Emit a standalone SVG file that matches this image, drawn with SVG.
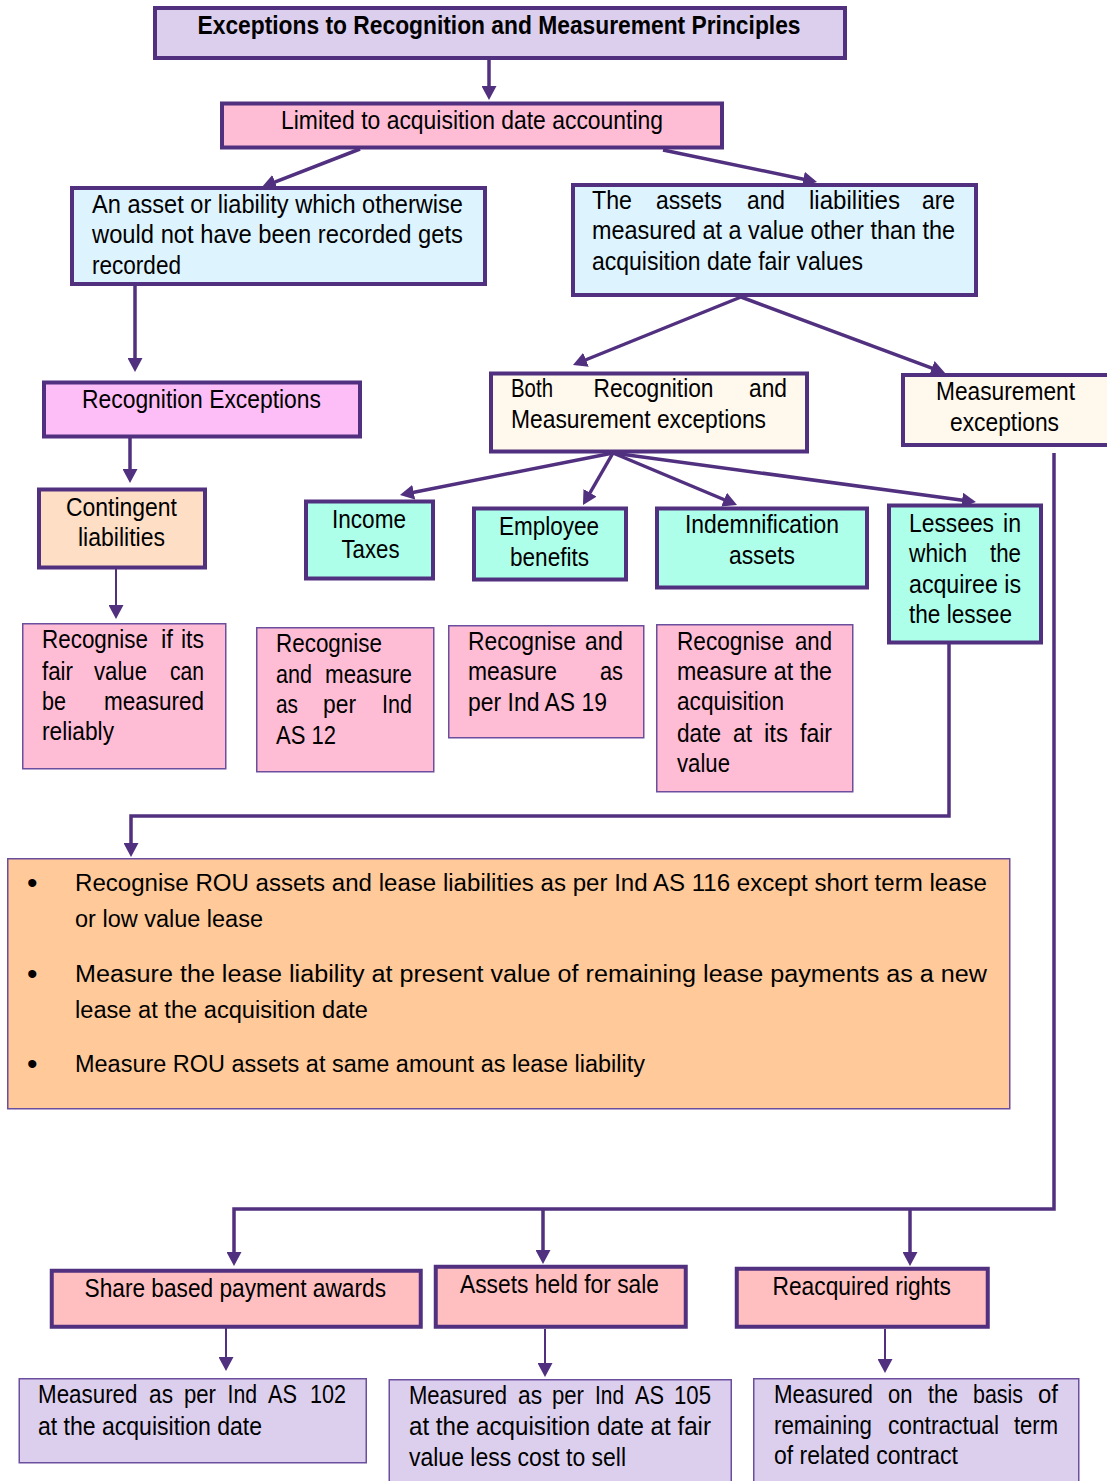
<svg xmlns="http://www.w3.org/2000/svg" width="1107" height="1481" viewBox="0 0 1107 1481">
<style>
text { font-family: "Liberation Sans", Arial, sans-serif; font-size: 25px; fill: #000; }
.b { font-weight: bold; }
.o { font-size: 23px; }
.bul { font-size: 30px; }
.k { stroke: #51307F; stroke-width: 4; }
.n { stroke: #6B4E9E; stroke-width: 1.5; }
.lav { fill: #DCCFEE; }
.pink { fill: #FFBDD5; }
.blue { fill: #DDF4FF; }
.mag { fill: #FDBEF7; }
.cream { fill: #FFF8EC; }
.peach { fill: #FFDEC6; }
.aqua { fill: #ADFFEA; }
.orange { fill: #FFC999; }
.salmon { fill: #FFBFC1; }
.c { fill: none; stroke: #51307F; stroke-width: 3.5; marker-end: url(#ah); }
.cn { fill: none; stroke: #51307F; stroke-width: 2; marker-end: url(#ah); }
</style>
<defs>
<marker id="ah" markerUnits="userSpaceOnUse" markerWidth="15" markerHeight="15" refX="10" refY="7.5" orient="auto">
<path d="M0,0 L14,7.5 L0,15 z" fill="#51307F"/>
</marker>
</defs>

<g id="connectors">
<path class="c" d="M489,60 V96"/>
<path class="c" d="M360,149 L265.7,185.6"/>
<path class="c" d="M663,150 L813.1,181.2"/>
<path class="c" d="M135,286 V368"/>
<path class="c" d="M741,297 L576.7,363.5"/>
<path class="c" d="M741,297 L941.3,371.6"/>
<path class="c" d="M130,438 V479"/>
<path class="cn" d="M116,569 V615"/>
<path class="c" d="M613,453 L403.9,494.2"/>
<path class="c" d="M613,453 L585,501.5"/>
<path class="c" d="M613,453 L733.3,503.5"/>
<path class="c" d="M613,453 L972,501.5"/>
<path class="c" d="M949,644 V816 H131 V853"/>
<path class="c" d="M1054,453 V1209 H234 V1262"/>
<path class="c" d="M543,1209 V1260"/>
<path class="c" d="M910,1209 V1262"/>
<path class="cn" d="M226,1328 V1367"/>
<path class="cn" d="M545,1329 V1373"/>
<path class="cn" d="M885,1329 V1369"/>
</g>

<g id="title">
<rect class="k lav" x="155" y="8" width="690" height="50"/>
<text class="b" x="197.5" y="34" textLength="603" lengthAdjust="spacingAndGlyphs">Exceptions to Recognition and Measurement Principles</text>
</g>

<g id="limited">
<rect class="k pink" x="222" y="103.5" width="500" height="44"/>
<text x="281" y="129" textLength="382" lengthAdjust="spacingAndGlyphs">Limited to acquisition date accounting</text>
</g>

<g id="recorded-box">
<rect class="k blue" x="72" y="188" width="413" height="96"/>
<text x="92" y="213" textLength="371" lengthAdjust="spacingAndGlyphs">An asset or liability which otherwise</text>
<text x="92" y="243" textLength="371" lengthAdjust="spacingAndGlyphs">would not have been recorded gets</text>
<text x="92" y="274" textLength="89" lengthAdjust="spacingAndGlyphs">recorded</text>
</g>

<g id="measured-box">
<rect class="k blue" x="573" y="185" width="403" height="110"/>
<text y="209"><tspan x="592" textLength="40" lengthAdjust="spacingAndGlyphs">The</tspan> <tspan x="656" textLength="66" lengthAdjust="spacingAndGlyphs">assets</tspan> <tspan x="747" textLength="38" lengthAdjust="spacingAndGlyphs">and</tspan> <tspan x="809" textLength="91" lengthAdjust="spacingAndGlyphs">liabilities</tspan> <tspan x="922" textLength="33" lengthAdjust="spacingAndGlyphs">are</tspan></text>
<text x="592" y="239" textLength="363" lengthAdjust="spacingAndGlyphs">measured at a value other than the</text>
<text x="592" y="270" textLength="271" lengthAdjust="spacingAndGlyphs">acquisition date fair values</text>
</g>

<g id="recognition-exceptions">
<rect class="k mag" x="44" y="382.5" width="316" height="54"/>
<text x="82" y="408" textLength="239" lengthAdjust="spacingAndGlyphs">Recognition Exceptions</text>
</g>

<g id="both-exceptions">
<rect class="k cream" x="491" y="373.5" width="316" height="78"/>
<text y="397"><tspan x="511" textLength="42" lengthAdjust="spacingAndGlyphs">Both</tspan> <tspan x="593.5" textLength="120" lengthAdjust="spacingAndGlyphs">Recognition</tspan> <tspan x="749" textLength="38" lengthAdjust="spacingAndGlyphs">and</tspan></text>
<text x="511" y="428" textLength="255" lengthAdjust="spacingAndGlyphs">Measurement exceptions</text>
</g>

<g id="measurement-exceptions">
<rect class="k cream" x="903" y="375" width="210" height="70"/>
<text x="936" y="400" textLength="139" lengthAdjust="spacingAndGlyphs">Measurement</text>
<text x="950" y="431" textLength="109" lengthAdjust="spacingAndGlyphs">exceptions</text>
</g>

<g id="contingent">
<rect class="k peach" x="39" y="489.5" width="166" height="78"/>
<text x="66" y="516" textLength="111" lengthAdjust="spacingAndGlyphs">Contingent</text>
<text x="78" y="546" textLength="87" lengthAdjust="spacingAndGlyphs">liabilities</text>
</g>

<g id="recognise-fair-value">
<rect class="n pink" x="22.75" y="623.75" width="203" height="145"/>
<text y="648"><tspan x="42" textLength="106" lengthAdjust="spacingAndGlyphs">Recognise</tspan> <tspan x="161" textLength="12" lengthAdjust="spacingAndGlyphs">if</tspan> <tspan x="181" textLength="23" lengthAdjust="spacingAndGlyphs">its</tspan></text>
<text y="680"><tspan x="42" textLength="31" lengthAdjust="spacingAndGlyphs">fair</tspan> <tspan x="94" textLength="53" lengthAdjust="spacingAndGlyphs">value</tspan> <tspan x="170" textLength="34" lengthAdjust="spacingAndGlyphs">can</tspan></text>
<text y="710"><tspan x="42" textLength="24" lengthAdjust="spacingAndGlyphs">be</tspan> <tspan x="104" textLength="100" lengthAdjust="spacingAndGlyphs">measured</tspan></text>
<text x="42" y="740" textLength="72" lengthAdjust="spacingAndGlyphs">reliably</text>
</g>

<g id="income-taxes">
<rect class="k aqua" x="306" y="501.5" width="127" height="77"/>
<text x="332" y="528" textLength="74" lengthAdjust="spacingAndGlyphs">Income</text>
<text x="341.5" y="558" textLength="58" lengthAdjust="spacingAndGlyphs">Taxes</text>
</g>

<g id="employee-benefits">
<rect class="k aqua" x="474" y="508.5" width="152" height="71"/>
<text x="499" y="535" textLength="100" lengthAdjust="spacingAndGlyphs">Employee</text>
<text x="510" y="566" textLength="79" lengthAdjust="spacingAndGlyphs">benefits</text>
</g>

<g id="indemnification-assets">
<rect class="k aqua" x="657" y="508.5" width="210" height="79"/>
<text x="685" y="533" textLength="154" lengthAdjust="spacingAndGlyphs">Indemnification</text>
<text x="729" y="564" textLength="66" lengthAdjust="spacingAndGlyphs">assets</text>
</g>

<g id="lessees">
<rect class="k aqua" x="889" y="505.5" width="152" height="137"/>
<text y="532"><tspan x="909" textLength="85" lengthAdjust="spacingAndGlyphs">Lessees</tspan> <tspan x="1003" textLength="18" lengthAdjust="spacingAndGlyphs">in</tspan></text>
<text y="562"><tspan x="909" textLength="58" lengthAdjust="spacingAndGlyphs">which</tspan> <tspan x="990" textLength="31" lengthAdjust="spacingAndGlyphs">the</tspan></text>
<text x="909" y="593" textLength="112" lengthAdjust="spacingAndGlyphs">acquiree is</text>
<text x="909" y="623" textLength="103" lengthAdjust="spacingAndGlyphs">the lessee</text>
</g>

<g id="ind-as-12">
<rect class="n pink" x="256.75" y="627.75" width="177" height="144"/>
<text x="276" y="652" textLength="106" lengthAdjust="spacingAndGlyphs">Recognise</text>
<text y="683"><tspan x="276" textLength="36" lengthAdjust="spacingAndGlyphs">and</tspan> <tspan x="325" textLength="87" lengthAdjust="spacingAndGlyphs">measure</tspan></text>
<text y="713"><tspan x="276" textLength="22" lengthAdjust="spacingAndGlyphs">as</tspan> <tspan x="323" textLength="33" lengthAdjust="spacingAndGlyphs">per</tspan> <tspan x="382" textLength="30" lengthAdjust="spacingAndGlyphs">Ind</tspan></text>
<text x="276" y="744" textLength="60" lengthAdjust="spacingAndGlyphs">AS 12</text>
</g>

<g id="ind-as-19">
<rect class="n pink" x="448.75" y="625.75" width="195" height="112"/>
<text y="650"><tspan x="468" textLength="108" lengthAdjust="spacingAndGlyphs">Recognise</tspan> <tspan x="585" textLength="38" lengthAdjust="spacingAndGlyphs">and</tspan></text>
<text y="680"><tspan x="468" textLength="89" lengthAdjust="spacingAndGlyphs">measure</tspan> <tspan x="600" textLength="23" lengthAdjust="spacingAndGlyphs">as</tspan></text>
<text x="468" y="711" textLength="139" lengthAdjust="spacingAndGlyphs">per Ind AS 19</text>
</g>

<g id="fair-value-acquisition">
<rect class="n pink" x="656.75" y="624.75" width="196" height="167"/>
<text y="650"><tspan x="677" textLength="107" lengthAdjust="spacingAndGlyphs">Recognise</tspan> <tspan x="795" textLength="37" lengthAdjust="spacingAndGlyphs">and</tspan></text>
<text x="677" y="680" textLength="155" lengthAdjust="spacingAndGlyphs">measure at the</text>
<text x="677" y="710" textLength="107" lengthAdjust="spacingAndGlyphs">acquisition</text>
<text y="742"><tspan x="677" textLength="44" lengthAdjust="spacingAndGlyphs">date</tspan> <tspan x="733" textLength="19" lengthAdjust="spacingAndGlyphs">at</tspan> <tspan x="764" textLength="24" lengthAdjust="spacingAndGlyphs">its</tspan> <tspan x="800" textLength="32" lengthAdjust="spacingAndGlyphs">fair</tspan></text>
<text x="677" y="772" textLength="53" lengthAdjust="spacingAndGlyphs">value</text>
</g>

<g id="lease-treatment">
<rect class="n orange" x="7.75" y="858.75" width="1002" height="250"/>
<text class="bul" x="27" y="893">•</text>
<text class="o" x="75" y="890.5" textLength="912" lengthAdjust="spacingAndGlyphs">Recognise ROU assets and lease liabilities as per Ind AS 116 except short term lease</text>
<text class="o" x="75" y="926.5" textLength="188" lengthAdjust="spacingAndGlyphs">or low value lease</text>
<text class="bul" x="27" y="984">•</text>
<text class="o" x="75" y="981.5" textLength="912" lengthAdjust="spacingAndGlyphs">Measure the lease liability at present value of remaining lease payments as a new</text>
<text class="o" x="75" y="1018" textLength="293" lengthAdjust="spacingAndGlyphs">lease at the acquisition date</text>
<text class="bul" x="27" y="1074">•</text>
<text class="o" x="75" y="1071.5" textLength="570" lengthAdjust="spacingAndGlyphs">Measure ROU assets at same amount as lease liability</text>
</g>

<g id="share-based">
<rect class="k salmon" x="51.75" y="1270.75" width="369" height="56"/>
<text x="84.5" y="1297" textLength="301.5" lengthAdjust="spacingAndGlyphs">Share based payment awards</text>
</g>

<g id="assets-held-for-sale">
<rect class="k salmon" x="435.75" y="1266.75" width="250" height="60"/>
<text x="460" y="1293" textLength="199" lengthAdjust="spacingAndGlyphs">Assets held for sale</text>
</g>

<g id="reacquired-rights">
<rect class="k salmon" x="736.75" y="1268.75" width="251" height="58"/>
<text x="772.5" y="1295" textLength="178.5" lengthAdjust="spacingAndGlyphs">Reacquired rights</text>
</g>

<g id="ind-as-102">
<rect class="n lav" x="19.25" y="1378.75" width="347" height="84"/>
<text y="1403"><tspan x="38" textLength="99.5" lengthAdjust="spacingAndGlyphs">Measured</tspan> <tspan x="149" textLength="24" lengthAdjust="spacingAndGlyphs">as</tspan> <tspan x="184" textLength="32" lengthAdjust="spacingAndGlyphs">per</tspan> <tspan x="227.5" textLength="29.5" lengthAdjust="spacingAndGlyphs">Ind</tspan> <tspan x="268" textLength="29" lengthAdjust="spacingAndGlyphs">AS</tspan> <tspan x="310" textLength="36" lengthAdjust="spacingAndGlyphs">102</tspan></text>
<text x="38" y="1435" textLength="224" lengthAdjust="spacingAndGlyphs">at the acquisition date</text>
</g>

<g id="ind-as-105">
<rect class="n lav" x="389.25" y="1379.75" width="342" height="110"/>
<text y="1404"><tspan x="409" textLength="98" lengthAdjust="spacingAndGlyphs">Measured</tspan> <tspan x="518" textLength="24" lengthAdjust="spacingAndGlyphs">as</tspan> <tspan x="552" textLength="32" lengthAdjust="spacingAndGlyphs">per</tspan> <tspan x="595" textLength="29" lengthAdjust="spacingAndGlyphs">Ind</tspan> <tspan x="635" textLength="29" lengthAdjust="spacingAndGlyphs">AS</tspan> <tspan x="674" textLength="37" lengthAdjust="spacingAndGlyphs">105</tspan></text>
<text x="409" y="1435" textLength="302" lengthAdjust="spacingAndGlyphs">at the acquisition date at fair</text>
<text x="409" y="1466" textLength="217" lengthAdjust="spacingAndGlyphs">value less cost to sell</text>
</g>

<g id="contractual-term">
<rect class="n lav" x="753.75" y="1378.75" width="325" height="110"/>
<text y="1403"><tspan x="774" textLength="99" lengthAdjust="spacingAndGlyphs">Measured</tspan> <tspan x="888" textLength="24.5" lengthAdjust="spacingAndGlyphs">on</tspan> <tspan x="928" textLength="30" lengthAdjust="spacingAndGlyphs">the</tspan> <tspan x="973" textLength="50" lengthAdjust="spacingAndGlyphs">basis</tspan> <tspan x="1038" textLength="20" lengthAdjust="spacingAndGlyphs">of</tspan></text>
<text y="1434"><tspan x="774" textLength="98" lengthAdjust="spacingAndGlyphs">remaining</tspan> <tspan x="888" textLength="111" lengthAdjust="spacingAndGlyphs">contractual</tspan> <tspan x="1014" textLength="44" lengthAdjust="spacingAndGlyphs">term</tspan></text>
<text x="774" y="1464" textLength="184" lengthAdjust="spacingAndGlyphs">of related contract</text>
</g>
</svg>
